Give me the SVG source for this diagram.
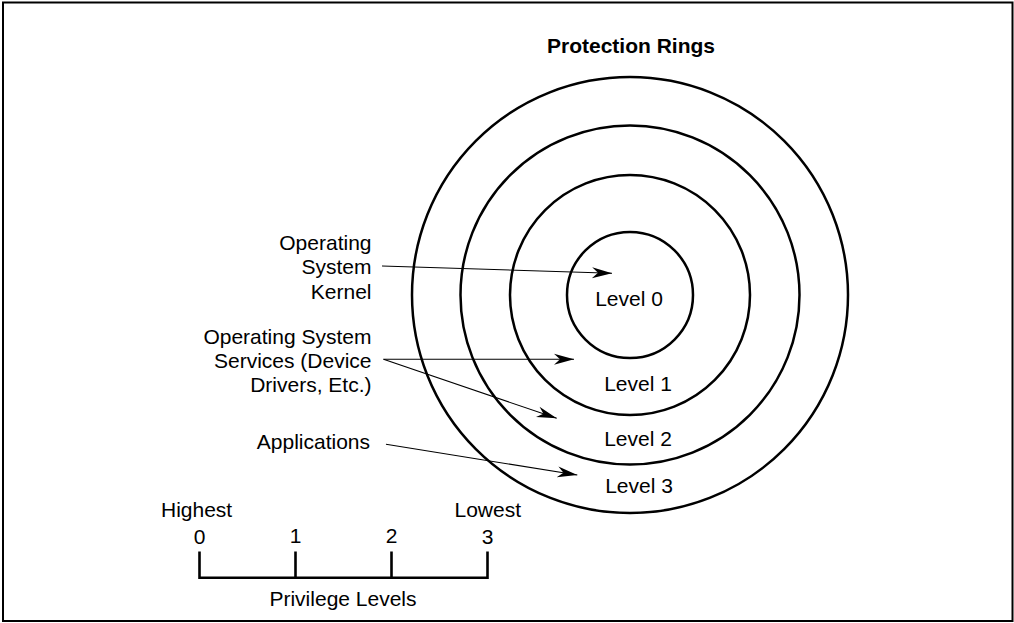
<svg xmlns="http://www.w3.org/2000/svg" width="1014" height="623" viewBox="0 0 1014 623">
<defs>
<style>
.t{font-family:"Liberation Sans",Arial,sans-serif;font-size:21px;fill:#000}
.r{text-anchor:end}
.m{text-anchor:middle}
.ring{fill:none;stroke:#000;stroke-width:2.5}
.con{fill:none;stroke:#000;stroke-width:1.1}
.scale{fill:none;stroke:#000;stroke-width:2.6}
</style>
<marker id="ah" markerUnits="userSpaceOnUse" markerWidth="24" markerHeight="14" viewBox="-21 -7 22 14" refX="0" refY="0" orient="auto">
<path d="M0,0 L-20,-5.5 L-14,0 L-20,5.5 Z" fill="#000"/>
</marker>
</defs>
<rect width="1014" height="623" fill="#fff"/>
<rect x="3" y="2.5" width="1009.5" height="618.5" fill="none" stroke="#000" stroke-width="2"/>
<text class="t m" x="631" y="53" font-weight="bold">Protection Rings</text>
<g id="ring3"><circle class="ring" cx="630" cy="295" r="218"/><text class="t m" x="639" y="493">Level 3</text></g>
<g id="ring2"><circle class="ring" cx="630" cy="295" r="169.5"/><text class="t m" x="638" y="446">Level 2</text></g>
<g id="ring1"><circle class="ring" cx="630" cy="295" r="120"/><text class="t m" x="638" y="391">Level 1</text></g>
<g id="ring0"><circle class="ring" cx="630" cy="295" r="63"/><text class="t m" x="629" y="305.5">Level 0</text></g>
<g id="kernel"><text class="t r" x="371.5"><tspan x="371.5" y="249.5">Operating</tspan><tspan x="371.5" y="274">System</tspan><tspan x="371.5" y="298.5">Kernel</tspan></text></g>
<g id="services"><text class="t r" x="371.5"><tspan x="371.5" y="344">Operating System</tspan><tspan x="371.5" y="368">Services (Device</tspan><tspan x="371.5" y="392">Drivers, Etc.)</tspan></text></g>
<g id="applications"><text class="t r" x="370" y="448.5">Applications</text></g>
<g id="connectors">
<line class="con" x1="382" y1="266" x2="612" y2="273.3" marker-end="url(#ah)"/>
<line class="con" x1="383.5" y1="359.3" x2="574" y2="359.3" marker-end="url(#ah)"/>
<line class="con" x1="383.5" y1="359.3" x2="556.7" y2="418.3" marker-end="url(#ah)"/>
<line class="con" x1="386" y1="444.3" x2="577.3" y2="475" marker-end="url(#ah)"/>
</g>
<g id="privilege-scale">
<path class="scale" d="M199.5,551.5 V577.8 H487.5 V551.5 M295.5,551.5 V577.8 M391.5,551.5 V577.8"/>
<text class="t" x="161" y="517">Highest</text>
<text class="t r" x="521" y="517">Lowest</text>
<text class="t m" x="199.5" y="544">0</text>
<text class="t m" x="295.5" y="542.5">1</text>
<text class="t m" x="391.5" y="543">2</text>
<text class="t m" x="487.5" y="544">3</text>
<text class="t m" x="343" y="606">Privilege Levels</text>
</g>
</svg>
